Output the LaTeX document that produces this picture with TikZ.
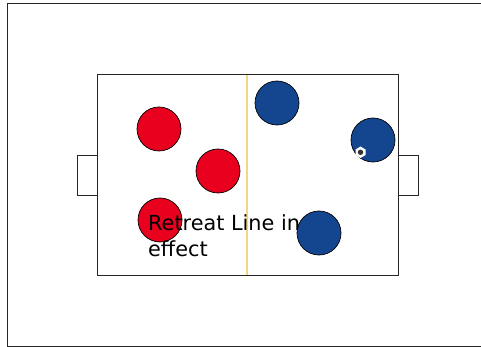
\documentclass[tikz,border=0pt]{standalone}
\usepackage{fontspec}
\setmainfont{DejaVu Sans}
\definecolor{redp}{HTML}{E8001E}
\definecolor{bluep}{HTML}{14468F}
\definecolor{halfway}{rgb}{0.96,0.84,0.50}
\tikzset{x=1pt,y=-1pt,
 player/.style={circle,draw=black,line width=0.7pt,minimum size=44pt,inner sep=0pt},
 redplayer/.style={player,fill=redp},
 blueplayer/.style={player,fill=bluep},
 pitch/.style={draw=black!85,line width=0.9pt,fill=white},
 caption/.style={anchor=north west,align=left,inner sep=0pt,font=\fontsize{20.8pt}{26pt}\selectfont,text=black}}
\begin{document}
\begin{tikzpicture}
\useasboundingbox (0,0) rectangle (481,347);
\draw[black!85,line width=0.9pt] (481,3) -- (7.5,3) -- (7.5,346.5) -- (481,346.5);
\draw[pitch] (97,155) -- (77,155) -- (77,195) -- (97,195);
\draw[pitch] (398,155) -- (418.5,155) -- (418.5,195) -- (398,195);
\draw[pitch] (97.5,74.5) rectangle (398,275);
\fill[halfway] (246.3,75) rectangle (248.3,274.5);
\node[redplayer] (r1) at (159,129) {};
\node[redplayer] (r2) at (218,171) {};
\node[redplayer] (r3) at (160,220) {};
\node[blueplayer] (b1) at (277,103) {};
\node[blueplayer] (b2) at (373,140) {};
\node[blueplayer] (b3) at (319,233) {};
\fill[white] (360.5,146.5) -- (365.5,149.5) -- (365.5,155) -- (360.5,158) -- (355.5,155) -- (355.5,149.5) -- cycle;
\fill[black!80] (360.5,152.3) circle (2.7);
\node[caption] (t) at (148,214.5) {Retreat Line in\\effect};
\end{tikzpicture}
\end{document}
